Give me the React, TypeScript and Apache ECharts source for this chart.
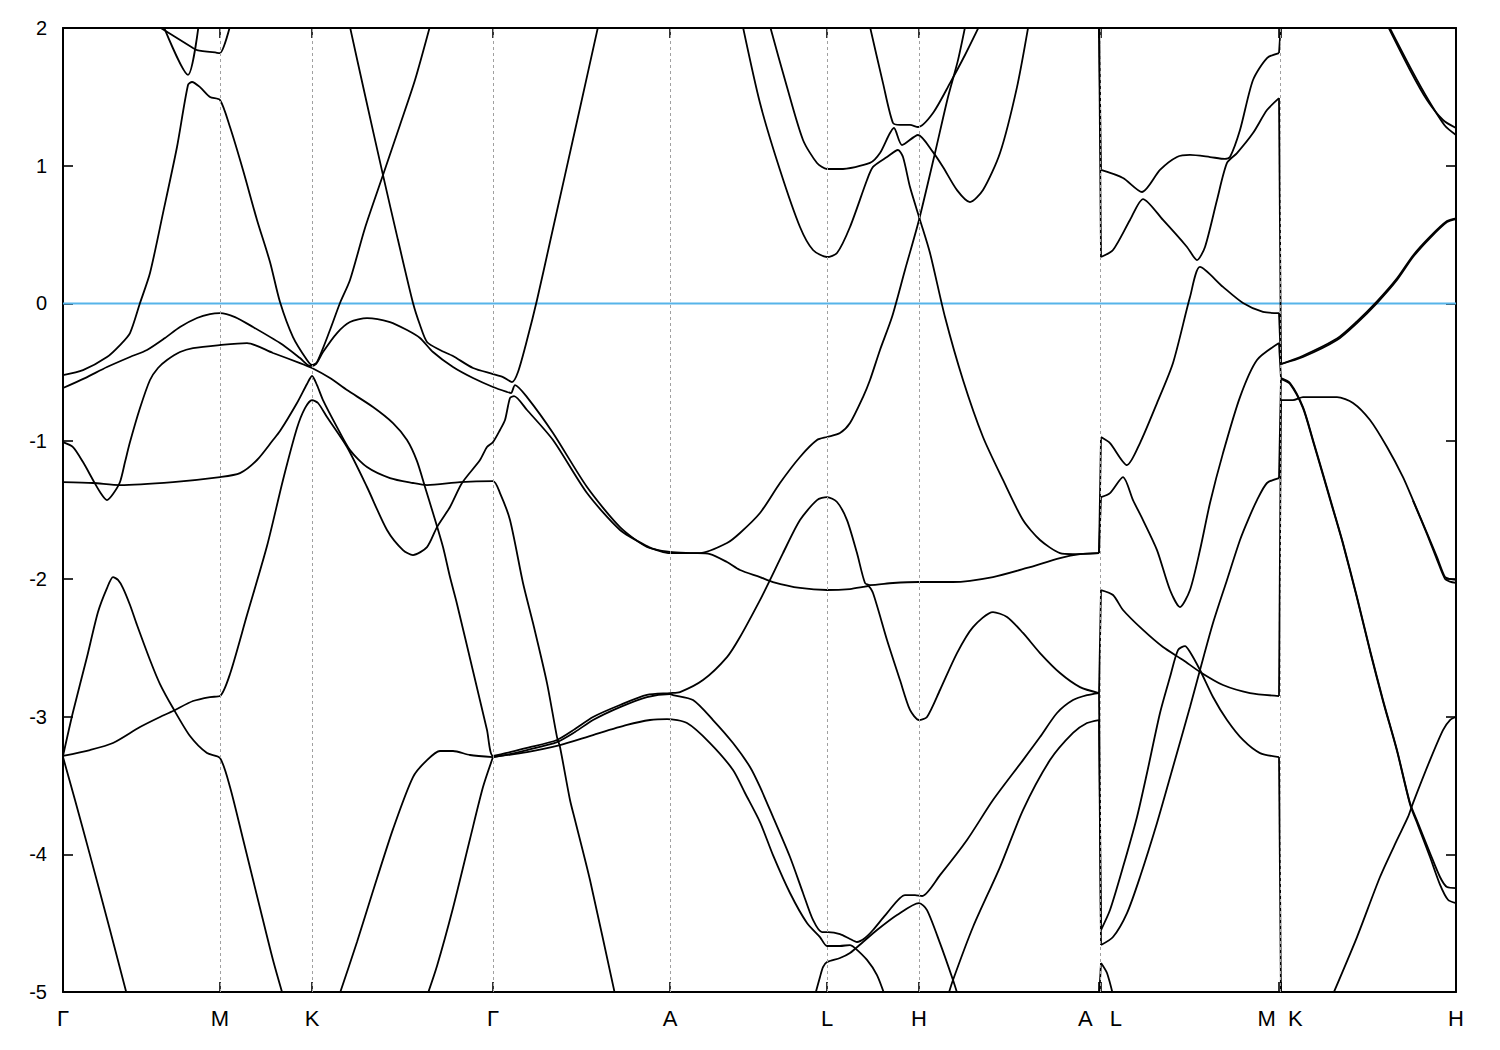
import React, { useEffect, useRef } from "react";
import * as echarts from "echarts";

// ---- k-path (high-symmetry points) ----
const kTicks = [0, 157, 249, 430, 607, 764, 856, 1036, 1038, 1216, 1218, 1393];
const kLabelPos = [0, 157, 249, 430, 607, 764, 856, 1037, 1217, 1393];
const kLabelText = ["Γ", "M", "K", "Γ", "A", "L", "H", "A   L", "M  K", "H"];
const kGridLines = [157, 249, 430, 607, 764, 856, 1037, 1217];
const kA = 1036;
const kL = 1038;
const kM = 1216;
const kK = 1218;
const kMax = 1393;
const eMin = -5;
const eMax = 2;
const eStep = 1;
const fermiLevel = 0;

// ---- bands [k, E(eV)] ----
const gmTop1 = [[89, 2.04], [130, 1.855], [134, 1.84], [154, 1.82], [157, 1.818], [168, 2.04]];
const gmTop2 = [[99, 2.04], [125, 1.66], [136, 2.04]];
const bandB = [[0, -0.52], [20, -0.484], [44, -0.389], [57, -0.302], [67, -0.215], [77, 0.003], [87, 0.221], [100, 0.656], [114, 1.136], [125, 1.586], [129, 1.608], [137, 1.571], [147, 1.499], [157, 1.477], [167, 1.281], [180, 0.969], [194, 0.606], [207, 0.301], [217, 0.01], [230, -0.244], [244, -0.411], [249, -0.447], [254, -0.426], [267, -0.193], [277, 0.003], [287, 0.17], [302, 0.548], [320, 0.932], [337, 1.296], [352, 1.622], [368, 2.04]];
const bandT = [[286, 2.04], [302, 1.513], [320, 0.932], [335, 0.46], [350, 0.003], [357, -0.157], [364, -0.28], [377, -0.338], [390, -0.382], [410, -0.469], [430, -0.513], [440, -0.535], [449, -0.571], [455, -0.498], [464, -0.266], [474, 0.025], [487, 0.446], [502, 0.932], [517, 1.419], [536, 2.04]];
const bandC = [[0, -0.614], [22, -0.542], [44, -0.462], [67, -0.389], [84, -0.338], [102, -0.251], [117, -0.171], [134, -0.106], [147, -0.077], [157, -0.07], [172, -0.099], [190, -0.171], [217, -0.288], [237, -0.396], [247, -0.454], [253, -0.44], [260, -0.353], [274, -0.215], [287, -0.135], [304, -0.106], [327, -0.135], [344, -0.193], [357, -0.251], [370, -0.353], [390, -0.462], [410, -0.542], [430, -0.607], [444, -0.643], [448, -0.651], [452, -0.593], [464, -0.68], [490, -0.941], [524, -1.333], [557, -1.624], [584, -1.769], [607, -1.805], [630, -1.813], [647, -1.82], [664, -1.878], [677, -1.936], [697, -1.987], [710, -2.023], [737, -2.066], [764, -2.081], [787, -2.074], [800, -2.059], [805, -2.052], [810, -2.103], [824, -2.444], [837, -2.735], [847, -2.952], [856, -3.025], [864, -3.003], [877, -2.807], [894, -2.539], [910, -2.35], [930, -2.241], [944, -2.277], [960, -2.393], [977, -2.539], [997, -2.684], [1017, -2.786], [1036, -2.829]];
const bandS1 = [[0, -3.286], [27, -3.243], [50, -3.192], [77, -3.076], [97, -3.003], [110, -2.96], [130, -2.887], [147, -2.858], [157, -2.851], [167, -2.691], [184, -2.263], [204, -1.762], [220, -1.282], [234, -0.905], [242, -0.76], [249, -0.702], [255, -0.723], [264, -0.825], [284, -1.043], [304, -1.333], [324, -1.645], [340, -1.791], [350, -1.827], [364, -1.769], [374, -1.624], [387, -1.478], [399, -1.304], [417, -1.137], [424, -1.043], [430, -1.007], [437, -0.919], [442, -0.847], [447, -0.687], [451, -0.673], [464, -0.774], [490, -0.992], [524, -1.377], [557, -1.645], [584, -1.762], [597, -1.798], [607, -1.813], [622, -1.813], [637, -1.813], [664, -1.74], [677, -1.667], [697, -1.522], [717, -1.304], [737, -1.115], [754, -0.992], [764, -0.97], [777, -0.941], [787, -0.869], [800, -0.68], [807, -0.556], [817, -0.338], [829, -0.099], [842, 0.243], [856, 0.606], [872, 1.092], [885, 1.499], [895, 1.767], [903, 2.04]];
const bandU3 = [[0, -1.007], [10, -1.043], [20, -1.152], [30, -1.282], [37, -1.369], [44, -1.428], [50, -1.384], [57, -1.297], [62, -1.152], [67, -1.007], [77, -0.76], [87, -0.556], [95, -0.469], [104, -0.411], [117, -0.353], [130, -0.324], [157, -0.302], [184, -0.288], [210, -0.36], [237, -0.433], [249, -0.469], [267, -0.542], [284, -0.629], [310, -0.752], [330, -0.869], [344, -0.992], [354, -1.145], [362, -1.333], [370, -1.522], [380, -1.769], [387, -1.987], [394, -2.182], [410, -2.669], [424, -3.098], [430, -3.286], [447, -3.258], [464, -3.228], [494, -3.17], [512, -3.091], [530, -3.003], [557, -2.916], [584, -2.843], [607, -2.829], [617, -2.822], [640, -2.735], [664, -2.568], [677, -2.422], [697, -2.154], [707, -2.008], [720, -1.813], [737, -1.573], [754, -1.428], [764, -1.406], [774, -1.442], [784, -1.573], [794, -1.813], [802, -2.03], [807, -2.045], [830, -2.03], [856, -2.023], [890, -2.023], [930, -1.987], [964, -1.921], [997, -1.849], [1017, -1.82], [1036, -1.813]];
const bandP2 = [[430, -3.294], [447, -3.272], [464, -3.243], [494, -3.185], [512, -3.112], [530, -3.025], [557, -2.931], [584, -2.858], [607, -2.836], [610, -2.844], [630, -2.88], [650, -3.025], [670, -3.192], [687, -3.366], [697, -3.511], [710, -3.729], [727, -4.02], [740, -4.281], [750, -4.477], [759, -4.565], [765, -4.565], [777, -4.579], [787, -4.615], [794, -4.637], [802, -4.608], [810, -4.55], [824, -4.427], [842, -4.296], [852, -4.296], [859, -4.303], [877, -4.151], [904, -3.896], [930, -3.606], [960, -3.316], [977, -3.149], [994, -2.974], [1010, -2.88], [1024, -2.844], [1036, -2.829]];
const bandP3 = [[430, -3.294], [464, -3.258], [497, -3.207], [530, -3.134], [564, -3.061], [587, -3.025], [604, -3.018], [624, -3.047], [647, -3.192], [670, -3.388], [682, -3.555], [697, -3.766], [710, -4.006], [727, -4.281], [744, -4.499], [757, -4.601], [764, -4.666], [777, -4.666], [787, -4.659], [792, -4.681], [804, -4.767], [814, -4.877], [823, -5.05]];
const bandC1 = [[0, -1.297], [30, -1.304], [57, -1.319], [110, -1.297], [157, -1.261], [177, -1.232], [194, -1.137], [210, -0.992], [217, -0.927], [234, -0.723], [244, -0.585], [249, -0.527], [254, -0.593], [260, -0.702], [274, -0.898], [287, -1.065], [304, -1.188], [327, -1.268], [350, -1.304], [364, -1.319], [397, -1.297], [430, -1.29], [437, -1.377], [447, -1.573], [460, -2.03], [470, -2.321], [484, -2.757], [494, -3.149], [497, -3.221], [507, -3.606], [512, -3.751], [527, -4.187], [553, -5.05]];
const bandG1 = [[0, -3.286], [10, -2.967], [24, -2.568], [35, -2.241], [44, -2.067], [50, -1.987], [55, -2.008], [60, -2.067], [67, -2.19], [74, -2.335], [87, -2.589], [97, -2.764], [110, -2.938], [127, -3.141], [144, -3.265], [157, -3.301], [167, -3.511], [180, -3.889], [197, -4.39], [210, -4.768], [221, -5.05]];
const bandG3 = [[0, -3.294], [12, -3.606], [27, -4.006], [47, -4.55], [65, -5.05]];
const bandKG1 = [[275, -5.05], [294, -4.637], [310, -4.267], [330, -3.817], [350, -3.439], [364, -3.316], [377, -3.25], [390, -3.25], [407, -3.279], [430, -3.294]];
const bandKG2 = [[430, -3.294], [420, -3.512], [407, -3.889], [390, -4.39], [374, -4.811], [363, -5.05]];
const bandLa = [[679, 2.04], [697, 1.455], [717, 0.969], [737, 0.555], [750, 0.388], [764, 0.337], [774, 0.366], [787, 0.555], [804, 0.896], [810, 0.991], [824, 1.063], [835, 1.114], [840, 1.063], [847, 0.845], [857, 0.606], [867, 0.366], [882, -0.099], [900, -0.556], [920, -0.97], [940, -1.282], [960, -1.573], [977, -1.718], [997, -1.813], [1010, -1.82], [1036, -1.813]];
const bandLb = [[706, 2.04], [724, 1.571], [740, 1.187], [754, 1.02], [764, 0.976], [777, 0.976], [807, 1.02], [817, 1.092], [831, 1.274], [839, 1.15], [855, 1.223], [870, 1.099], [880, 0.991], [894, 0.823], [907, 0.736], [920, 0.823], [937, 1.092], [954, 1.571], [966, 2.04]];
const bandLc = [[806, 2.04], [820, 1.6], [830, 1.31], [837, 1.296], [847, 1.296], [855, 1.281], [870, 1.383], [887, 1.6], [902, 1.804], [918, 2.04]];
const bandH1 = [[751, -5.05], [757, -4.891], [760, -4.819], [764, -4.782], [777, -4.753], [787, -4.717], [800, -4.637], [814, -4.55], [834, -4.441], [856, -4.354], [864, -4.405], [877, -4.645], [890, -4.913], [896, -5.05]];
const bandH2 = [[884, -5.05], [890, -4.913], [910, -4.528], [937, -4.093], [960, -3.679], [987, -3.316], [1010, -3.119], [1024, -3.047], [1036, -3.025]];
const bandLM1 = [[1038, 0.969], [1060, 0.911], [1079, 0.809], [1097, 0.969], [1114, 1.063], [1127, 1.078], [1147, 1.063], [1162, 1.049], [1167, 1.063], [1177, 1.259], [1190, 1.622], [1204, 1.782], [1216, 1.818]];
const bandLM2 = [[1038, 0.337], [1050, 0.388], [1067, 0.606], [1080, 0.758], [1100, 0.606], [1124, 0.41], [1134, 0.315], [1142, 0.41], [1154, 0.751], [1164, 1.02], [1174, 1.092], [1190, 1.237], [1204, 1.404], [1216, 1.491]];
const bandLM3 = [[1038, -0.97], [1047, -1.014], [1064, -1.174], [1077, -1.014], [1094, -0.724], [1110, -0.433], [1127, 0.046], [1137, 0.265], [1160, 0.12], [1180, 0.003], [1200, -0.062], [1216, -0.07]];
const bandLM4 = [[1038, -1.406], [1047, -1.377], [1060, -1.261], [1070, -1.428], [1080, -1.573], [1094, -1.791], [1107, -2.081], [1117, -2.205], [1127, -2.081], [1137, -1.791], [1147, -1.449], [1160, -1.087], [1177, -0.68], [1194, -0.411], [1216, -0.288]];
const bandLM6 = [[1038, -2.081], [1050, -2.117], [1060, -2.226], [1080, -2.371], [1100, -2.495], [1120, -2.589], [1137, -2.676], [1160, -2.771], [1187, -2.829], [1216, -2.851]];
const bandLM7 = [[1038, -4.55], [1047, -4.405], [1060, -4.093], [1074, -3.729], [1084, -3.41], [1097, -2.974], [1107, -2.713], [1115, -2.517], [1122, -2.488], [1127, -2.531], [1137, -2.662], [1150, -2.858], [1164, -3.025], [1180, -3.17], [1197, -3.265], [1216, -3.294]];
const bandLM8 = [[1038, -4.659], [1050, -4.601], [1064, -4.427], [1077, -4.165], [1094, -3.773], [1110, -3.366], [1127, -2.931], [1137, -2.662], [1150, -2.321], [1164, -2.008], [1177, -1.718], [1185, -1.573], [1194, -1.428], [1204, -1.304], [1216, -1.268]];
const bandLM9 = [[1038, -4.789], [1044, -4.862], [1051, -5.05]];
const bandKH1a = [[1323, 2.04], [1347, 1.695], [1364, 1.477], [1380, 1.332], [1393, 1.274]];
const bandKH1b = [[1324, 2.04], [1349, 1.69], [1366, 1.47], [1382, 1.29], [1393, 1.223]];
const bandKH2a = [[1218, -0.44], [1240, -0.389], [1274, -0.266], [1294, -0.142], [1314, 0.003], [1334, 0.17], [1350, 0.337], [1367, 0.475], [1384, 0.591], [1393, 0.613]];
const bandKH2b = [[1218, -0.44], [1240, -0.38], [1274, -0.255], [1294, -0.13], [1314, 0.015], [1334, 0.182], [1350, 0.348], [1367, 0.485], [1384, 0.598], [1393, 0.618]];
const bandKH3a = [[1218, -0.542], [1227, -0.578], [1240, -0.753], [1250, -0.992], [1260, -1.239], [1269, -1.464], [1280, -1.74], [1294, -2.132], [1307, -2.517], [1320, -2.88], [1334, -3.243], [1347, -3.628], [1355, -3.773], [1367, -3.991], [1377, -4.165], [1384, -4.238], [1393, -4.245]];
const bandKH3b = [[1218, -0.548], [1227, -0.585], [1240, -0.76], [1250, -1.0], [1260, -1.247], [1269, -1.472], [1280, -1.748], [1294, -2.14], [1307, -2.525], [1320, -2.888], [1334, -3.251], [1347, -3.636], [1355, -3.79], [1367, -4.02], [1377, -4.22], [1385, -4.33], [1393, -4.354]];
const bandKH4a = [[1218, -0.702], [1230, -0.702], [1240, -0.68], [1274, -0.68], [1290, -0.723], [1307, -0.847], [1324, -1.043], [1340, -1.261], [1350, -1.428], [1364, -1.667], [1374, -1.842], [1382, -1.987], [1387, -2.001], [1393, -2.008]];
const bandKH4b = [[1350, -1.432], [1364, -1.675], [1374, -1.86], [1382, -2.0], [1387, -2.02], [1393, -2.03]];
const bandKH5 = [[1268, -5.05], [1294, -4.601], [1317, -4.165], [1334, -3.896], [1345, -3.729], [1350, -3.628], [1367, -3.316], [1380, -3.098], [1387, -3.025], [1393, -3.003]];

// energy pairs joined across the path breaks (A|L and M|K)
const jumpsAL = [[2.05, 0.976], [2.05, 0.337], [-1.813, -0.97], [-1.813, -1.406], [-2.829, -2.081], [-2.829, -4.55], [-3.025, -4.659], [-5.05, -4.789]];
const jumpsMK = [[-3.294, -5.05], [-2.851, -0.702], [-1.268, -0.542], [-0.288, -0.548], [-0.07, -0.44], [1.491, -0.44], [1.818, 2.05]];

const bands = [
  gmTop1, gmTop2, bandB, bandT, bandC, bandS1, bandU3, bandP2, bandP3, bandC1, bandG1, bandG3,
  bandKG1, bandKG2, bandLa, bandLb, bandLc, bandH1, bandH2,
  bandLM1, bandLM2, bandLM3, bandLM4, bandLM6, bandLM7, bandLM8, bandLM9,
  bandKH1a, bandKH1b, bandKH2a, bandKH2b, bandKH3a, bandKH3b, bandKH4a, bandKH4b, bandKH5,
];

export default function App() {
  const ref = useRef<HTMLDivElement>(null);
  useEffect(() => {
    if (!ref.current) return;
    const chart = echarts.init(ref.current, null, { renderer: "svg" });
    const black = "#000000";
    const font = "Liberation Sans, Arial, sans-serif";
    const lineW = 1.8;

    const bandSeries = bands.map((d) => ({
      type: "line",
      data: d,
      symbol: "none",
      showSymbol: false,
      silent: true,
      clip: true,
      smooth: 0.25,
      z: 3,
      lineStyle: { color: black, width: lineW },
    }));
    const jumpData = [
      ...jumpsAL.map(([a, b]) => [[kA, a], [kL, b]]),
      ...jumpsMK.map(([a, b]) => [[kM, a], [kK, b]]),
    ];
    const jumpSeries = jumpData.map((d) => ({
      type: "line",
      data: d,
      symbol: "none",
      showSymbol: false,
      silent: true,
      clip: true,
      z: 3,
      lineStyle: { color: black, width: lineW },
    }));

    const axisLine = { show: true, onZero: false, lineStyle: { color: black, width: 2 } };
    const option = {
      animation: false,
      backgroundColor: "#ffffff",
      grid: { left: 63, right: 44, top: 28, bottom: 58, containLabel: false },
      xAxis: [
        {
          type: "value",
          min: 0,
          max: kMax,
          position: "bottom",
          axisLine,
          axisTick: { show: true, inside: true, length: 10, customValues: kTicks, lineStyle: { color: black, width: 1.6 } },
          axisLabel: {
            show: true,
            customValues: kLabelPos,
            formatter: (v: number) => {
              const i = kLabelPos.indexOf(Math.round(v));
              return i >= 0 ? kLabelText[i] : "";
            },
            color: black,
            fontSize: 22,
            fontFamily: font,
            margin: 15,
          },
          splitLine: { show: false },
        },
        {
          type: "value",
          min: 0,
          max: kMax,
          position: "top",
          axisLine,
          axisTick: { show: true, inside: true, length: 10, customValues: kTicks, lineStyle: { color: black, width: 1.6 } },
          axisLabel: { show: false },
          splitLine: { show: false },
        },
      ],
      yAxis: [
        {
          type: "value",
          min: eMin,
          max: eMax,
          interval: eStep,
          position: "left",
          axisLine,
          axisTick: { show: true, inside: true, length: 10, lineStyle: { color: black, width: 1.6 } },
          axisLabel: { color: black, fontSize: 20, fontFamily: font, margin: 16 },
          splitLine: { show: false },
        },
        {
          type: "value",
          min: eMin,
          max: eMax,
          interval: eStep,
          position: "right",
          axisLine,
          axisTick: { show: true, inside: true, length: 10, lineStyle: { color: black, width: 1.6 } },
          axisLabel: { show: false },
          splitLine: { show: false },
        },
      ],
      series: [
        {
          type: "line",
          data: [[0, fermiLevel], [kMax, fermiLevel]],
          symbol: "none",
          silent: true,
          z: 2,
          lineStyle: { color: "#56b4e9", width: 2 },
          markLine: {
            silent: true,
            symbol: "none",
            label: { show: false },
            lineStyle: { color: "#a0a0a0", type: [3, 3], width: 1 },
            data: kGridLines.map((x) => ({ xAxis: x })),
          },
        },
        ...bandSeries,
        ...jumpSeries,
      ],
    };
    chart.setOption(option as any);
    return () => chart.dispose();
  }, []);
  return <div ref={ref} style={{ position: "absolute", left: 0, top: 0, width: 1500, height: 1050 }} />;
}
